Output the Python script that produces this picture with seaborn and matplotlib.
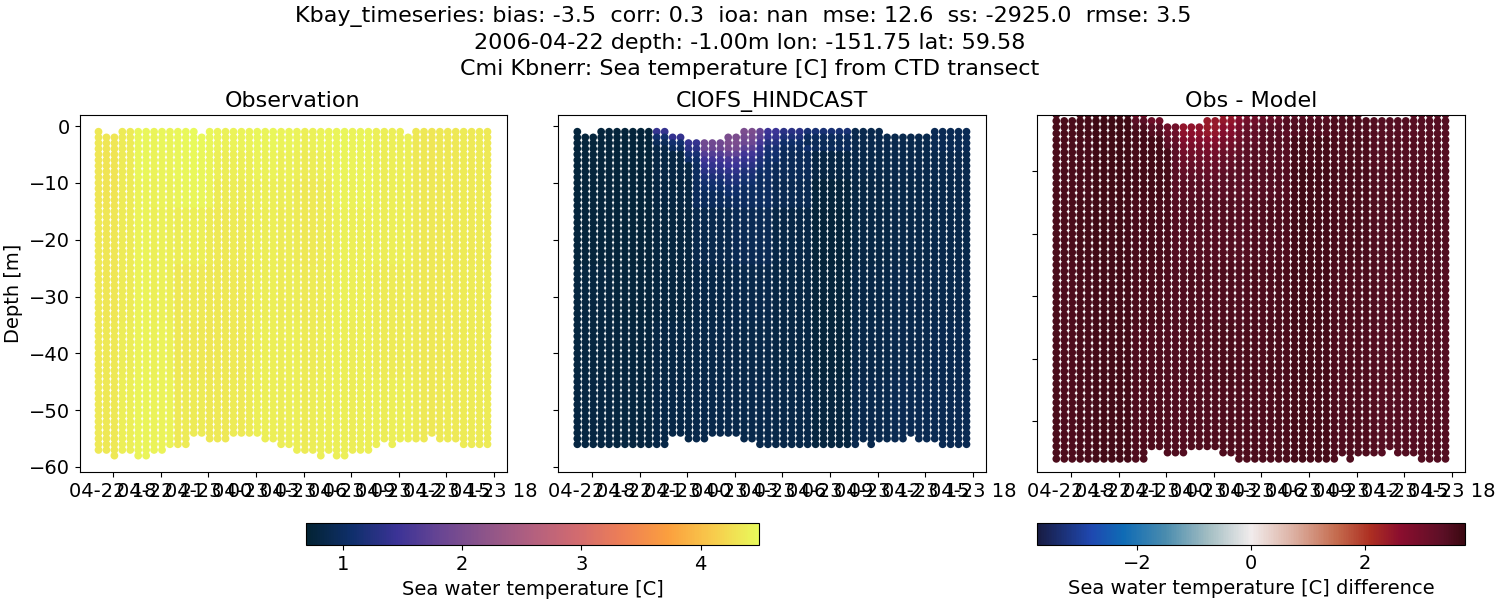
import matplotlib
matplotlib.use("Agg")
import matplotlib.dates as mdates
import matplotlib.pyplot as plt
import numpy as np
import pandas as pd
import seaborn as sns
from matplotlib.cm import ScalarMappable
from matplotlib.colors import LinearSegmentedColormap, Normalize

nan = np.nan

# top and bottom depth bin of every 30 min profile
obs_top = [1, 2, 2, 1, 1, 1, 1, 1, 1, 1, 1, 1, 1, 2, 1, 1, 1, 1, 1, 1, 1, 1, 1, 1, 1,
           1, 1, 1, 1, 1, 1, 1, 1, 1, 1, 1, 1, 1, 1, 2, 1, 1, 1, 1, 1, 1, 1, 1, 1, 1]
obs_bottom = [57, 57, 58, 57, 57, 58, 58, 57, 57, 56, 56, 56, 54, 54, 55, 55, 55, 54, 54, 54, 54, 55, 55, 56, 56,
              57, 57, 57, 58, 57, 58, 58, 57, 57, 57, 56, 55, 56, 55, 55, 55, 55, 54, 55, 55, 55, 56, 56, 56, 56]
model_top = [1, 2, 2, 1, 1, 1, 1, 1, 1, 1, 1, 1, 2, 2, 3, 3, 3, 3, 3, 2, 2, 1, 1, 1, 1,
             1, 1, 1, 1, 1, 1, 1, 1, 1, 1, 1, 1, 1, 1, 2, 2, 2, 2, 2, 2, 1, 1, 1, 1, 1]
model_bottom = [56, 56, 56, 56, 56, 56, 56, 56, 56, 56, 56, 56, 54, 54, 55, 55, 55, 54, 54, 54, 54, 55, 55, 56, 56,
                56, 56, 56, 56, 56, 56, 56, 56, 56, 56, 56, 55, 56, 55, 55, 55, 55, 54, 55, 55, 55, 56, 56, 56, 56]

# temperature read by depth band (rows) and group of 5 profiles (columns)
band_edges = [5, 10, 15, 25, 35, 45]
obs_temp = [
    [4.36, 4.44, 4.46, 4.44, 4.44, 4.42, 4.43, 4.40, 4.35, 4.36],
    [4.35, 4.43, 4.45, 4.41, 4.41, 4.39, 4.42, 4.39, 4.35, 4.36],
    [4.35, 4.41, 4.44, 4.39, 4.39, 4.36, 4.41, 4.39, 4.36, 4.36],
    [4.36, 4.40, 4.38, 4.37, 4.38, 4.36, 4.39, 4.39, 4.36, 4.36],
    [4.36, 4.40, 4.34, 4.36, 4.38, 4.37, 4.39, 4.37, 4.36, 4.37],
    [4.37, 4.41, 4.33, 4.36, 4.39, 4.38, 4.38, 4.37, 4.36, 4.37],
    [4.38, 4.42, 4.35, 4.37, 4.39, 4.39, 4.38, 4.39, 4.37, 4.37],
]
# small offset of each profile, the streaks seen in the observation panel
obs_shift = [-.03, -.04, -.04, .01, .01, .02, .02, 0, .01, 0, 0, .01, .02, .01, -.01, -.02, -.03, -.01, -.02, -.01,
             .01, 0, .01, -.01, 0, .01, -.02, -.01, 0, .01, .01, .02, 0, .01, .01, 0, -.01, 0, 0, .01,
             -.01, -.02, -.03, -.02, -.01, -.02, 0, -.01, 0, -.01]
model_temp = [
    [0.76, 0.74, 0.85, 1.02, 1.05, 1.08, 0.96, 0.88, 0.88, 0.92],
    [0.76, 0.74, 0.82, 1.00, 1.03, 0.95, 0.82, 0.84, 0.86, 0.88],
    [0.76, 0.74, 0.80, 0.96, 1.00, 0.90, 0.76, 0.81, 0.84, 0.86],
    [0.76, 0.74, 0.79, 0.88, 0.92, 0.83, 0.74, 0.81, 0.84, 0.86],
    [0.78, 0.76, 0.79, 0.83, 0.86, 0.82, 0.76, 0.83, 0.86, 0.88],
    [0.79, 0.77, 0.81, 0.84, 0.84, 0.82, 0.76, 0.85, 0.88, 0.89],
    [0.80, 0.78, 0.83, 0.86, 0.86, 0.84, 0.78, 0.87, 0.90, 0.90],
]

# warm surface water in the model, depth bins 1-12 for runs of profiles
surface_first = [10, 12, 14, 16, 19, 21, 23, 24, 26, 29]
surface_last = [11, 13, 15, 18, 20, 22, 23, 25, 28, 34]
surface_temp = [
    [1.40, nan, nan, nan, nan, 2.00, 1.80, 1.45, 1.30, 1.15],
    [1.10, 1.40, nan, nan, 2.00, 1.95, 1.70, 1.40, 1.20, 1.00],
    [0.95, 1.10, 1.40, 1.90, 2.00, 1.85, 1.55, 1.25, 1.05, 0.95],
    [nan, 1.00, 1.30, 1.85, 1.95, 1.70, 1.40, 1.15, 1.00, nan],
    [nan, nan, 1.15, 1.65, 1.75, 1.50, 1.30, 1.10, nan, nan],
    [nan, nan, 1.05, 1.50, 1.55, 1.40, 1.20, 1.05, nan, nan],
    [nan, nan, nan, 1.40, 1.45, 1.30, 1.15, nan, nan, nan],
    [nan, nan, nan, 1.30, 1.35, 1.20, 1.05, nan, nan, nan],
    [nan, nan, nan, 1.20, 1.25, 1.15, 1.00, nan, nan, nan],
    [nan, nan, nan, 1.12, 1.18, 1.08, nan, nan, nan, nan],
    [nan, nan, nan, 1.05, 1.10, 1.02, nan, nan, nan, nan],
    [nan, nan, nan, nan, 1.05, nan, nan, nan, nan, nan],
]

depth_ticks = [0, -10, -20, -30, -40, -50, -60]
diff_ticks = [-10, -20, -30, -40, -50]

title = (
    "Kbay_timeseries: bias: -3.5  corr: 0.3  ioa: nan  mse: 12.6  ss: -2925.0  rmse: 3.5  \n"
    "2006-04-22 depth: -1.00m lon: -151.75 lat: 59.58\n"
    "Cmi Kbnerr: Sea temperature [C] from CTD transect"
)

# cmocean is not available, so rebuild thermal and balance by eye
thermal = LinearSegmentedColormap.from_list("thermal", [
    "#032333", "#0f2f6b", "#3b3396", "#6a4693", "#8f5589", "#b3607f",
    "#d26b6f", "#ee7f56", "#fb9f3e", "#f8cb4c", "#e8fa5b",
])
balance = LinearSegmentedColormap.from_list("balance", [
    (0.0, "#181c43"), (0.125, "#1f48b0"), (0.2, "#0f6bb5"), (0.3, "#4a8cae"),
    (0.4, "#a3bec3"), (0.5, "#f1ecec"), (0.6, "#dcb0a2"), (0.7, "#c56c4f"),
    (0.78, "#ad2f22"), (0.85, "#8b0e2e"), (0.95, "#5c0f26"), (1.0, "#3c0912"),
])

times = pd.date_range("2006-04-22 17:05", periods=len(obs_top), freq="30min")


def lookup(table, col, depth):
    return table[np.digitize(depth, band_edges)][col // 5]


def obs_value(col, depth):
    return lookup(obs_temp, col, depth) + obs_shift[col]


def model_value(col, depth):
    for i, (first, last) in enumerate(zip(surface_first, surface_last)):
        if first <= col <= last and depth <= len(surface_temp):
            if not np.isnan(surface_temp[depth - 1][i]):
                return surface_temp[depth - 1][i]
    return lookup(model_temp, col, depth)


def build_frame(top, bottom, value):
    rows = []
    for col, time in enumerate(times):
        for depth in range(top[col], bottom[col] + 1):
            rows.append({"time": time, "depth": -depth, "temp": value(col, depth)})
    return pd.DataFrame(rows)


def draw_panel(ax, df, cmap, norm, panel_title):
    sns.scatterplot(data=df, x="time", y="depth", hue="temp", palette=cmap,
                    hue_norm=norm, legend=False, s=31, linewidth=0, ax=ax)
    ax.set_title(panel_title, fontsize=16)
    ax.set_xlabel("")
    ax.set_ylabel("")
    ax.set_xlim(times[0] - pd.Timedelta(hours=1.197), times[-1] + pd.Timedelta(hours=1.197))
    ax.xaxis.set_major_locator(mdates.HourLocator(byhour=range(0, 24, 3)))
    ax.xaxis.set_major_formatter(mdates.DateFormatter("%m-%d %H"))
    ax.tick_params(labelsize=14)


def add_axes_px(fig, left, right, top, bottom):
    return fig.add_axes([left / 1500, 1 - bottom / 600, (right - left) / 1500, (bottom - top) / 600])


obs_df = build_frame(obs_top, obs_bottom, obs_value)
model_df = build_frame(model_top, model_bottom, model_value)
diff_df = build_frame(model_top, model_bottom, lambda c, d: obs_value(c, d) - model_value(c, d))

temp_norm = Normalize(0.69, 4.49)
diff_norm = Normalize(-3.75, 3.75)

fig = plt.figure(figsize=(15, 6), dpi=100)
ax_obs = add_axes_px(fig, 79.5, 506.5, 115, 472)
ax_model = add_axes_px(fig, 558.3, 985.5, 115, 472)
ax_diff = add_axes_px(fig, 1037.3, 1464.5, 115, 472)

draw_panel(ax_obs, obs_df, thermal, temp_norm, "Observation")
draw_panel(ax_model, model_df, thermal, temp_norm, "CIOFS_HINDCAST")
draw_panel(ax_diff, diff_df, balance, diff_norm, "Obs - Model")

for ax in (ax_obs, ax_model):
    ax.set_ylim(-60.88, 1.94)
    ax.set_yticks(depth_ticks)
ax_diff.set_ylim(-58.1, -1.05)
ax_diff.set_yticks(diff_ticks)
ax_model.set_yticklabels([])
ax_diff.set_yticklabels([])
ax_obs.set_ylabel("Depth [m]", fontsize=14)

cax_temp = add_axes_px(fig, 306, 759, 522.7, 545.3)
cbar = fig.colorbar(ScalarMappable(temp_norm, thermal), cax=cax_temp, orientation="horizontal")
cbar.set_ticks([1, 2, 3, 4])
cbar.ax.tick_params(labelsize=14)
cbar.set_label("Sea water temperature [C]", fontsize=14)

cax_diff = add_axes_px(fig, 1037.3, 1464.5, 522.7, 544.5)
cbar = fig.colorbar(ScalarMappable(diff_norm, balance), cax=cax_diff, orientation="horizontal")
cbar.set_ticks([-2, 0, 2])
cbar.ax.tick_params(labelsize=14)
cbar.set_label("Sea water temperature [C] difference", fontsize=14)

fig.suptitle(title, x=0.5, y=0.99, fontsize=16, linespacing=1.36)
fig.savefig("out.png", dpi=100)
